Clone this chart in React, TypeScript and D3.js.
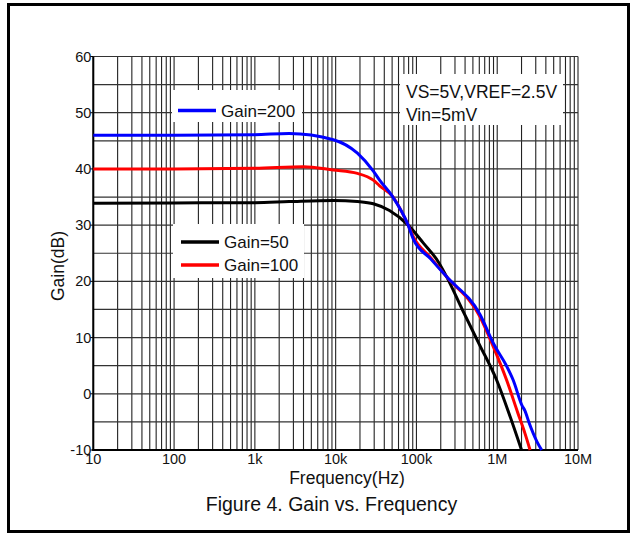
import { useRef, useEffect } from 'react';
import * as d3 from 'd3';

// Gain vs frequency
const freqG50 = [10, 100, 1000, 2655, 9350, 18600, 29300, 46400, 79000, 122000, 186000, 237000, 380000, 600000, 986000, 1400000, 2000000];
const dbG50 = [33.9, 33.95, 34.0, 34.2, 34.4, 34.2, 33.8, 32.6, 30.0, 26.8, 23.5, 20.8, 14.6, 8.8, 2.4, -3.5, -10];

const freqG100 = [10, 100, 1000, 4000, 9350, 18600, 29300, 35000, 50000, 79000, 91000, 150000, 237000, 612000, 900000, 1310000, 1800000, 2200000, 2550000];
const dbG100 = [40.0, 40.0, 40.1, 40.4, 39.8, 39.2, 38.0, 37.0, 35.2, 30.0, 28.0, 24.2, 20.8, 13.7, 8.3, 2.4, -3.4, -7.0, -10];

const freqG200 = [10, 100, 1000, 2655, 9350, 18600, 29300, 35000, 50000, 79000, 91000, 150000, 237000, 612000, 908000, 1300000, 1580000, 2030000, 2200000, 2500000, 3100000, 3550000];
const dbG200 = [46.0, 46.0, 46.1, 46.3, 45.2, 42.8, 39.6, 38.0, 35.2, 30.0, 27.6, 24.0, 20.8, 14.1, 8.8, 5.0, 2.4, -2.1, -3.0, -5.3, -8.5, -10];

const xTicks = [10, 100, 1000, 10000, 100000, 1000000, 10000000];
const xTickLabels = ['10', '100', '1k', '10k', '100k', '1M', '10M'];
const yTicks = [-10, 0, 10, 20, 30, 40, 50, 60];

const series = [
  { name: 'Gain=50', freq: freqG50, db: dbG50, color: '#000000' },
  { name: 'Gain=100', freq: freqG100, db: dbG100, color: '#ff0000' },
  { name: 'Gain=200', freq: freqG200, db: dbG200, color: '#0000ff' },
];

const FONT = 'Arial, "Liberation Sans", sans-serif';

export default function App() {
  const svgRef = useRef<SVGSVGElement>(null);

  useEffect(() => {
    if (!svgRef.current) return;
    const svg = d3.select(svgRef.current);
    svg.selectAll('*').remove();

    const left = 93.3, right = 578, top = 56.5, bottom = 450;
    const x = d3.scaleLog().domain([10, 1e7]).range([left, right]);
    const y = d3.scaleLinear().domain([-10, 60]).range([bottom, top]);

    // outer frame
    svg.append('rect')
      .attr('x', 8.5).attr('y', 4.5).attr('width', 620).attr('height', 527)
      .attr('fill', 'white').attr('stroke', 'black').attr('stroke-width', 3);

    const g = svg.append('g');

    // vertical grid: decades + 2..9
    const vgrid: number[] = [];
    for (let d = 1; d <= 7; d++) {
      for (let m = 1; m <= 9; m++) {
        const f = m * 10 ** d;
        if (f <= 1e7) vgrid.push(f);
      }
    }
    g.selectAll('.vg').data(vgrid).join('line')
      .attr('x1', (d) => x(d)).attr('x2', (d) => x(d))
      .attr('y1', top).attr('y2', bottom)
      .attr('stroke', '#222').attr('stroke-width', 1.1);

    const hgrid = d3.range(-10, 61, 5);
    g.selectAll('.hg').data(hgrid).join('line')
      .attr('x1', left).attr('x2', right)
      .attr('y1', (d) => y(d)).attr('y2', (d) => y(d))
      .attr('stroke', '#333').attr('stroke-width', 1.2);

    // axes spines
    g.append('line').attr('x1', left).attr('x2', left).attr('y1', top).attr('y2', bottom + 1)
      .attr('stroke', 'black').attr('stroke-width', 2);
    g.append('line').attr('x1', left - 1).attr('x2', right).attr('y1', bottom).attr('y2', bottom)
      .attr('stroke', 'black').attr('stroke-width', 2);

    // y tick marks + labels
    g.selectAll('.yt').data(yTicks).join('line')
      .attr('x1', left - 3).attr('x2', left)
      .attr('y1', (d) => y(d)).attr('y2', (d) => y(d))
      .attr('stroke', 'black').attr('stroke-width', 1);
    g.selectAll('.yl').data(yTicks).join('text')
      .attr('x', left - 2).attr('y', (d) => y(d) + 5)
      .attr('text-anchor', 'end')
      .attr('font-family', FONT).attr('font-size', 14.5).attr('fill', '#111')
      .text((d) => `${d}`);

    // x tick labels
    g.selectAll('.xl').data(xTicks).join('text')
      .attr('x', (d) => x(d)).attr('y', 463.5)
      .attr('text-anchor', 'middle')
      .attr('font-family', FONT).attr('font-size', 14.5).attr('fill', '#111')
      .text((_, i) => xTickLabels[i]);

    // white boxes (legends / conditions) sitting over the grid
    g.append('rect').attr('x', 172).attr('y', 90).attr('width', 130).attr('height', 32).attr('fill', 'white');
    g.append('rect').attr('x', 400).attr('y', 74).attr('width', 163).attr('height', 51).attr('fill', 'white');
    g.append('rect').attr('x', 173).attr('y', 224).attr('width', 131).attr('height', 54).attr('fill', 'white');

    // curves
    const line = d3.line<[number, number]>()
      .x((d) => x(d[0]))
      .y((d) => y(d[1]))
      .curve(d3.curveMonotoneX);

    series.forEach((s) => {
      const pts = s.freq.map((f, i) => [f, s.db[i]] as [number, number]);
      g.append('path')
        .attr('d', line(pts))
        .attr('fill', 'none')
        .attr('stroke', s.color)
        .attr('stroke-width', 3)
        .attr('stroke-linejoin', 'round');
    });

    // legends
    const legend = [
      { s: series[2], lx: 178, ly: 110.5 },
      { s: series[0], lx: 181, ly: 242 },
      { s: series[1], lx: 181, ly: 265 },
    ];
    legend.forEach(({ s, lx, ly }) => {
      g.append('line').attr('x1', lx).attr('x2', lx + 38).attr('y1', ly).attr('y2', ly)
        .attr('stroke', s.color).attr('stroke-width', 3.5);
      g.append('text').attr('x', lx + 43).attr('y', ly + 6)
        .attr('font-family', FONT).attr('font-size', 17).attr('fill', '#111')
        .text(s.name);
    });

    g.append('text').attr('x', 406).attr('y', 98)
      .attr('font-family', FONT).attr('font-size', 17.5).attr('fill', '#111')
      .text('VS=5V,VREF=2.5V');
    g.append('text').attr('x', 406).attr('y', 121)
      .attr('font-family', FONT).attr('font-size', 17.5).attr('fill', '#111')
      .text('Vin=5mV');

    // axis titles
    svg.append('text').attr('x', 347).attr('y', 483.5)
      .attr('text-anchor', 'middle')
      .attr('font-family', FONT).attr('font-size', 17.5).attr('fill', '#111')
      .text('Frequency(Hz)');
    svg.append('text')
      .attr('transform', 'translate(64,266) rotate(-90)')
      .attr('text-anchor', 'middle')
      .attr('font-family', FONT).attr('font-size', 17.5).attr('fill', '#111')
      .text('Gain(dB)');
    svg.append('text').attr('x', 331.5).attr('y', 510.5)
      .attr('text-anchor', 'middle')
      .attr('font-family', FONT).attr('font-size', 19.5).attr('fill', '#111')
      .text('Figure 4. Gain vs. Frequency');
  }, []);

  return (
    <svg
      ref={svgRef}
      width={630}
      height={534}
      style={{ position: 'absolute', left: 0, top: 0, background: 'white' }}
    />
  );
}
